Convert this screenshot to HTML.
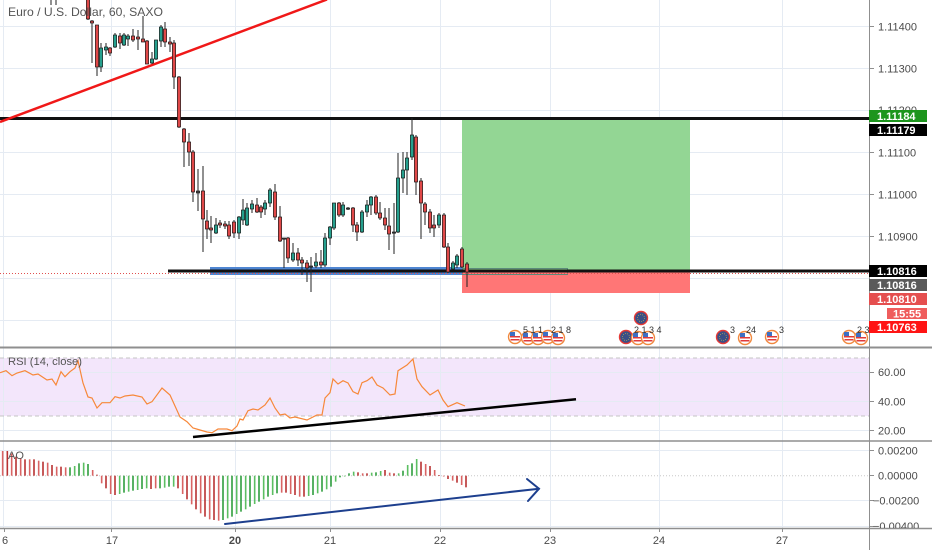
<!DOCTYPE html>
<html><head><meta charset="utf-8">
<style>
html,body{margin:0;padding:0;background:#fff;}
svg{display:block;font-family:"Liberation Sans",sans-serif;}
</style></head><body>
<svg id="c" width="932" height="550" viewBox="0 0 932 550" xmlns="http://www.w3.org/2000/svg">
<defs>
<clipPath id="mainclip"><rect x="0" y="0" width="869" height="347"/></clipPath>
<clipPath id="aoclip"><rect x="0" y="442" width="932" height="86"/></clipPath>
</defs>
<rect width="932" height="550" fill="#fff"/>
<!-- RSI band -->
<rect x="0" y="358" width="869" height="58" fill="#f3e6fb"/>
<!-- grid -->
<g stroke="#e5ebf3" stroke-width="1">
<line x1="3.5" y1="0" x2="3.5" y2="528"/>
<line x1="111.5" y1="0" x2="111.5" y2="528"/>
<line x1="235.5" y1="0" x2="235.5" y2="528"/>
<line x1="330.5" y1="0" x2="330.5" y2="528"/>
<line x1="440.5" y1="0" x2="440.5" y2="528"/>
<line x1="550.5" y1="0" x2="550.5" y2="528"/>
<line x1="659.5" y1="0" x2="659.5" y2="528"/>
<line x1="782.5" y1="0" x2="782.5" y2="528"/>
<line x1="0" y1="26.5" x2="869" y2="26.5"/>
<line x1="0" y1="68.5" x2="869" y2="68.5"/>
<line x1="0" y1="110.5" x2="869" y2="110.5"/>
<line x1="0" y1="152.5" x2="869" y2="152.5"/>
<line x1="0" y1="194.5" x2="869" y2="194.5"/>
<line x1="0" y1="236.5" x2="869" y2="236.5"/>
<line x1="0" y1="278.5" x2="869" y2="278.5"/>
<line x1="0" y1="320.5" x2="869" y2="320.5"/>
<line x1="0" y1="372.5" x2="869" y2="372.5"/>
<line x1="0" y1="401.5" x2="869" y2="401.5"/>
<line x1="0" y1="430.5" x2="869" y2="430.5"/>
<line x1="0" y1="450.5" x2="869" y2="450.5"/>
<line x1="0" y1="500.5" x2="869" y2="500.5"/>
<line x1="0" y1="526.5" x2="869" y2="526.5"/>
</g>
<line x1="0" y1="358" x2="869" y2="358" stroke="#c4c4c4" stroke-dasharray="4,3"/>
<line x1="0" y1="416" x2="869" y2="416" stroke="#c4c4c4" stroke-dasharray="4,3"/>
<line x1="0" y1="475.7" x2="869" y2="475.7" stroke="#c8c8c8" stroke-dasharray="1,2"/>

<g clip-path="url(#mainclip)">
<!-- position boxes -->
<rect x="462" y="117" width="228" height="154" fill="#93d694"/>
<rect x="462" y="271" width="228" height="22" fill="#ff7676"/>
<line x1="462" y1="271.5" x2="690" y2="271.5" stroke="#e01010" stroke-width="1.5"/>
<!-- blue zone -->
<rect x="210" y="267" width="252" height="8" fill="#4f86d2"/>
<rect x="462.5" y="268.5" width="105" height="6" fill="none" stroke="#5c8a7a" stroke-width="1"/>
<!-- dotted line -->
<line x1="0" y1="273.5" x2="869" y2="273.5" stroke="#e05050" stroke-width="1" stroke-dasharray="1,2"/>
<!-- horizontal black lines -->
<line x1="0" y1="118.5" x2="869" y2="118.5" stroke="#111" stroke-width="3"/>
<line x1="168" y1="271" x2="869" y2="271" stroke="#111" stroke-width="3"/>
<!-- red trend -->
<line x1="0" y1="122" x2="327" y2="-0.5" stroke="#f01818" stroke-width="2.5"/>
<g id="candles"></g>
</g>

<!-- event icons -->
<g id="events"></g>
<g font-size="9" fill="#333">
<text x="523" y="333">5 1 1</text>
<text x="551" y="333">2 1 8</text>
<text x="634" y="333">2 1 3 4</text>
<text x="730" y="333">3</text>
<text x="746" y="333">24</text>
<text x="779" y="333">3</text>
<text x="857" y="333">2 3</text>
</g>

<!-- RSI line -->
<polyline id="rsi" fill="none" stroke="#f7883a" stroke-width="1.2" points=""/>
<line x1="193" y1="437" x2="576" y2="399.3" stroke="#000" stroke-width="2.5"/>

<!-- AO -->
<g id="ao" clip-path="url(#aoclip)"></g>
<g stroke="#1d3f8e" stroke-width="2" fill="none" stroke-linecap="round">
<line x1="225" y1="524" x2="539" y2="488.7"/>
<polyline points="527,479 539,488.7 528,501"/>
</g>

<!-- separators -->
<line x1="0" y1="347.5" x2="932" y2="347.5" stroke="#8f8f8f" stroke-width="2"/>
<line x1="0" y1="441" x2="932" y2="441" stroke="#8f8f8f" stroke-width="1.5"/>
<line x1="0" y1="528.5" x2="932" y2="528.5" stroke="#8f8f8f" stroke-width="1.5"/>
<line x1="869.5" y1="0" x2="869.5" y2="550" stroke="#8f8f8f" stroke-width="1"/>

<!-- titles -->
<text x="8" y="16" font-size="12" fill="#555" textLength="155" lengthAdjust="spacingAndGlyphs">Euro / U.S. Dollar, 60, SAXO</text>
<text x="8" y="365" font-size="11" fill="#555" textLength="74" lengthAdjust="spacingAndGlyphs">RSI (14, close)</text>
<text x="8" y="459" font-size="11" fill="#555">AO</text>

<!-- right axis ticks -->
<g stroke="#8f8f8f" stroke-width="1">
<line x1="869" y1="26.5" x2="874" y2="26.5"/>
<line x1="869" y1="68.5" x2="874" y2="68.5"/>
<line x1="869" y1="152.5" x2="874" y2="152.5"/>
<line x1="869" y1="194.5" x2="874" y2="194.5"/>
<line x1="869" y1="236.5" x2="874" y2="236.5"/>
<line x1="869" y1="372.5" x2="874" y2="372.5"/>
<line x1="869" y1="401.5" x2="874" y2="401.5"/>
<line x1="869" y1="430.5" x2="874" y2="430.5"/>
<line x1="869" y1="450.5" x2="874" y2="450.5"/>
<line x1="869" y1="475.5" x2="874" y2="475.5"/>
<line x1="869" y1="500.5" x2="874" y2="500.5"/>
<line x1="869" y1="526.5" x2="874" y2="526.5"/>
</g>
<g font-size="11" fill="#4a4a4a">
<text x="878" y="30.5">1.11400</text>
<text x="878" y="72.5">1.11300</text>
<text x="878" y="114">1.11200</text>
<text x="878" y="156.5">1.11100</text>
<text x="878" y="198.5">1.11000</text>
<text x="878" y="240.5">1.10900</text>
<text x="878" y="376">60.00</text>
<text x="878" y="405.5">40.00</text>
<text x="878" y="434.5">20.00</text>
<text x="878" y="454.5">0.00200</text>
<text x="878" y="479.5">0.00000</text>
<text x="873" y="504.5">−0.00200</text>
</g>
<g clip-path="url(#aoclip)"><text x="873" y="530" font-size="11" fill="#4a4a4a">−0.00400</text></g>

<!-- price labels -->
<rect x="869" y="110" width="58" height="12" fill="#1d951d"/>
<rect x="869" y="124" width="58" height="12" fill="#000"/>
<rect x="869" y="265" width="58" height="12" fill="#000"/>
<rect x="869" y="279" width="58" height="12" fill="#5a5a5a"/>
<rect x="869" y="293" width="58" height="12" fill="#e54f4f"/>
<rect x="887" y="308" width="40" height="11" fill="#ef5d5d"/>
<rect x="869" y="321" width="58" height="12" fill="#ff1414"/>
<g font-size="11" font-weight="bold" fill="#fff">
<text x="877" y="120">1.11184</text>
<text x="877" y="134">1.11179</text>
<text x="877" y="275">1.10816</text>
<text x="877" y="289">1.10816</text>
<text x="877" y="303">1.10810</text>
<text x="893" y="317.5">15:55</text>
<text x="877" y="331">1.10763</text>
</g>

<!-- time axis -->
<g stroke="#8f8f8f" stroke-width="1">
<line x1="4.5" y1="528" x2="4.5" y2="532"/>
<line x1="111.5" y1="528" x2="111.5" y2="532"/>
<line x1="235.5" y1="528" x2="235.5" y2="532"/>
<line x1="330.5" y1="528" x2="330.5" y2="532"/>
<line x1="440.5" y1="528" x2="440.5" y2="532"/>
<line x1="550.5" y1="528" x2="550.5" y2="532"/>
<line x1="659.5" y1="528" x2="659.5" y2="532"/>
<line x1="782.5" y1="528" x2="782.5" y2="532"/>
</g>
<g font-size="11" fill="#4a4a4a" text-anchor="middle">
<text x="5" y="544">6</text>
<text x="112" y="544">17</text>
<text x="235" y="544" font-weight="bold">20</text>
<text x="330" y="544">21</text>
<text x="440" y="544">22</text>
<text x="550" y="544">23</text>
<text x="659" y="544">24</text>
<text x="782" y="544">27</text>
</g>
</svg>
<script>
(function(){
var NS="http://www.w3.org/2000/svg";
function el(t,a,p){var e=document.createElementNS(NS,t);for(var k in a)e.setAttribute(k,a[k]);p.appendChild(e);return e;}
var C=[[51,-5,-3,-5,5,0],[56,-5,-3,-5,5,0],[88,-2,19,-2,20,0],[92,21,23,20,63,0],[97,25,67,25,76,0],[101,48,67,43,72,1],[106,47,50,43,55,1],[110,48,53,47,56,0],[115,35,47,33,48,1],[120,36,43,33,49,0],[124,35,45,33,46,1],[128,36,39,34,46,1],[133,36,40,29,42,0],[138,37,39,30,50,0],[143,39,42,16,42,0],[147,41,64,40,64,0],[152,59,63,52,64,1],[156,40,59,40,60,1],[161,27,41,25,47,1],[165,29,42,22,47,0],[170,42,44,37,52,0],[174,43,77,40,89,0],[179,77,127,76,128,0],[184,129,142,128,167,0],[189,142,152,133,166,0],[193,152,192,150,202,0],[198,191,193,169,211,2],[203,191,219,166,252,0],[207,221,229,210,239,0],[211,228,230,216,243,0],[216,225,233,218,234,1],[220,223,225,220,228,0],[225,224,226,221,229,0],[229,225,236,221,239,0],[234,222,233,220,238,0],[239,217,233,216,239,1],[243,210,220,199,225,1],[247,208,225,203,226,1],[252,204,209,200,213,1],[257,205,212,198,213,0],[261,207,212,205,218,0],[265,203,209,200,215,1],[270,190,203,188,207,1],[275,192,217,184,220,0],[280,217,241,206,242,0],[284,238,239,238,268,2],[288,238,258,237,263,0],[293,253,260,243,262,1],[298,253,260,248,266,0],[302,260,263,257,275,0],[307,263,268,260,282,0],[311,266,267,257,292,2],[316,262,266,253,268,1],[321,262,265,250,268,0],[325,238,265,233,267,1],[330,227,238,226,245,1],[334,203,228,203,230,1],[339,203,215,202,217,0],[343,205,215,202,217,1],[348,208,209,207,210,2],[353,208,225,207,232,0],[357,225,232,222,241,0],[362,212,232,210,233,1],[367,205,212,200,217,1],[371,197,205,196,215,1],[376,197,213,195,215,0],[380,213,218,202,220,0],[385,218,225,208,230,0],[389,226,234,208,250,0],[394,232,233,203,254,2],[398,178,232,153,233,1],[403,170,178,152,193,1],[407,158,170,152,195,1],[412,135,157,118,160,1],[416,137,182,135,195,0],[421,181,203,178,239,0],[425,204,212,202,225,0],[430,212,228,209,233,0],[434,225,228,215,237,0],[439,215,225,213,228,1],[444,215,247,213,248,0],[448,247,272,243,273,0],[453,263,269,261,270,1],[457,256,265,254,268,1],[462,249,267,247,268,0],[467,264,272,262,287,0]];
var g=document.getElementById("candles");
C.forEach(function(c){
 var x=c[0];
 el("line",{x1:x,y1:c[3],x2:x,y2:c[4],stroke:"#222","stroke-width":1},g);
 var h=Math.max(c[2]-c[1],1.2);
 var f=c[5]==1?"#26a08e":(c[5]==0?"#e04848":"#444");
 el("rect",{x:x-1.6,y:c[1],width:3.2,height:h,fill:f,stroke:"#1a1a1a","stroke-width":0.7},g);
});
var R=[[0,372.7],[6,370.7],[12,375.7],[17,373],[25,370.7],[33,375],[38,374],[47,380],[52,379],[56,385],[61,371.7],[65,376.7],[70,371.7],[75,368],[78,360.7],[83,383],[88,397],[92,398],[97,408],[102,402.7],[110,402.7],[115,396.7],[120,398],[125,396],[133,395],[142,397],[147,404],[152,401.7],[162,388],[170,395],[180,417],[187,421.7],[193,428],[200,430],[207,432],[212,432.7],[218,429],[227,429],[232,430.7],[237,426],[240,419],[243,420],[248,410.7],[253,409],[258,410],[265,405],[270,398],[275,408],[280,415],[285,414],[290,418],[295,417],[307,420],[317,415],[322,415],[325,398],[330,392.7],[333,379],[338,384],[343,380.7],[348,383],[353,391.7],[358,394],[362,382.7],[367,380.7],[372,377],[377,385],[383,388],[390,395],[395,394],[398,370.7],[407,365],[413,359],[417,379],[422,386.7],[430,395],[438,390],[443,400],[448,406.7],[457,402.7],[465,406]];
document.getElementById("rsi").setAttribute("points",R.map(function(p){return p[0]+","+p[1];}).join(" "));
var A=[[8,333,0],[22,333,0],[35,340,0],[48,350,0],[62,355,0],[75,358,0],[89,358,0],[102,358,0],[116,362,0],[129,365,0],[143,368,0],[156,375,0],[170,380,0],[183,380,0],[197,382,0],[210,382,1],[224,378,1],[237,370,1],[251,368,1],[264,372,1],[278,390,0],[291,404,0],[305,430,0],[318,445,0],[332,462,0],[345,465,0],[359,462,1],[372,458,1],[386,455,1],[399,452,1],[413,450,1],[426,447,1],[440,445,1],[453,447,0],[467,445,0],[480,445,1],[494,443,1],[507,440,1],[521,440,1],[534,445,0],[548,462,0],[561,478,0],[575,493,0],[588,508,0],[602,520,0],[615,530,0],[629,538,0],[642,540,0],[656,542,0],[669,540,1],[683,535,1],[696,530,1],[710,522,1],[723,515,1],[737,508,1],[750,500,1],[764,492,1],[777,485,1],[791,478,1],[804,470,1],[818,465,1],[831,460,1],[845,458,0],[858,458,0],[872,462,0],[885,465,0],[899,470,0],[912,470,0],[926,468,1],[939,465,1],[953,460,1],[966,455,1],[980,448,1],[993,440,1],[1007,425,1],[1020,412,1],[1034,408,1],[1047,400,1],[1061,395,1],[1074,397,0],[1088,400,0],[1101,400,0],[1115,398,1],[1128,397,1],[1142,393,1],[1155,390,0],[1169,398,0],[1182,400,0],[1196,400,1],[1209,392,1],[1223,375,1],[1236,370,1],[1250,357,1],[1263,365,0],[1277,372,0],[1290,378,0],[1304,390,0],[1317,405,0],[1331,408,0],[1344,417,0],[1358,422,0],[1371,428,0],[1385,435,0],[1398,442,0]];
var ga=document.getElementById("ao");var z=475.7;
A.forEach(function(a,i){
 var x=a[0]/3, y=340+a[1]/3;
 var col=a[2]?(i%2?"#2f9e3e":"#5cbf62"):(i%2?"#b83232":"#d96464");
 var top=Math.min(y,z), h=Math.max(Math.abs(y-z),0.8);
 el("rect",{x:x-0.8,y:top,width:1.6,height:h,fill:col},ga);
});
var ge=document.getElementById("events");
function us(x,y){
 el("circle",{cx:x,cy:y,r:6.5,fill:"#fff",stroke:"#f0883e","stroke-width":1.4},ge);
 el("rect",{x:x-5,y:y-1,width:10,height:1.5,fill:"#e03a3a"},ge);
 el("rect",{x:x-4.5,y:y+2,width:9,height:1.5,fill:"#e03a3a"},ge);
 el("rect",{x:x-5,y:y-5,width:5,height:4,fill:"#3d6fc4"},ge);
}
function eu(x,y){
 el("circle",{cx:x,cy:y,r:6.5,fill:"#3b4f86",stroke:"#e53935","stroke-width":1.4},ge);
 el("circle",{cx:x,cy:y,r:3.5,fill:"none",stroke:"#c9b64a","stroke-width":0.8,"stroke-dasharray":"0.8,1.4"},ge);
}
us(515,337);us(528,338);us(538,338);us(548,337);us(558,338);
eu(626,337);us(638,338);us(648,338);eu(641,318);
eu(723,337);us(745,338);us(772,337);us(849,337);us(861,338);
})();
</script>
</body></html>
